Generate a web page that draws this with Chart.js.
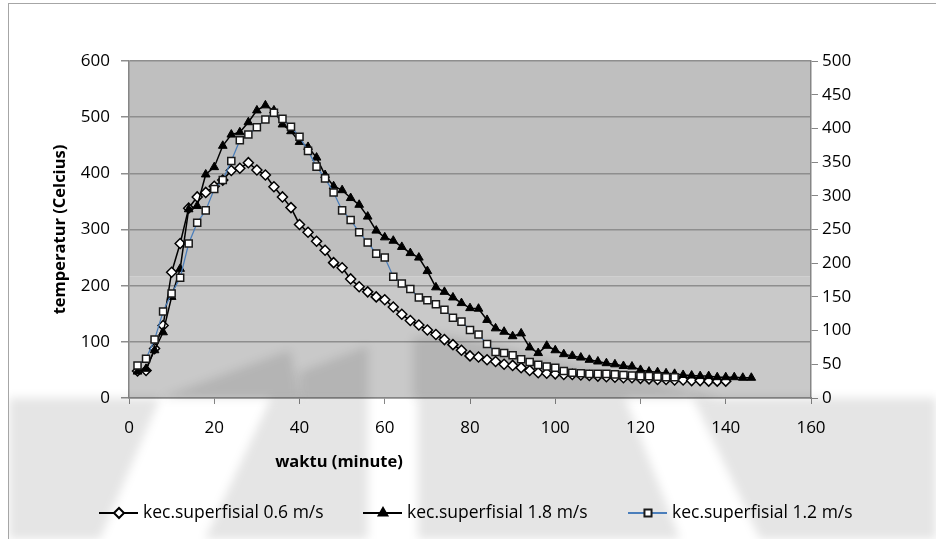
<!DOCTYPE html>
<html>
<head>
<meta charset="utf-8">
<script src="https://cdn.jsdelivr.net/npm/chart.js@4.4.1/dist/chart.umd.min.js"></script>
<style>
  html, body { margin: 0; padding: 0; background: #fff; }
  #wrap { position: relative; width: 936px; height: 539px; }
</style>
</head>
<body>
<div id="wrap"><canvas id="chart"></canvas></div>
<script>
// waktu (minute), one reading every 2 minutes
const waktu = [
  2, 4, 6, 8, 10, 12, 14, 16, 18, 20,
  22, 24, 26, 28, 30, 32, 34, 36, 38, 40,
  42, 44, 46, 48, 50, 52, 54, 56, 58, 60,
  62, 64, 66, 68, 70, 72, 74, 76, 78, 80,
  82, 84, 86, 88, 90, 92, 94, 96, 98, 100,
  102, 104, 106, 108, 110, 112, 114, 116, 118, 120,
  122, 124, 126, 128, 130, 132, 134, 136, 138, 140,
  142, 144, 146,
];

// temperatur (Celcius) per superficial velocity
const kec06 = [
  48, 49, 88, 129, 224, 275, 338, 358, 366, 377,
  388, 405, 409, 419, 406, 397, 376, 358, 339, 309,
  295, 279, 263, 241, 232, 212, 198, 189, 180, 175,
  162, 149, 138, 130, 121, 113, 104, 95, 85, 75,
  73, 68, 65, 60, 58, 54, 49, 45, 44, 43,
  42, 42, 41, 40, 39, 38, 37, 36, 36, 35,
  34, 33, 33, 32, 32, 31, 31, 30, 30, 30,
];
const kec18 = [
  47, 52, 85, 117, 180, 230, 336, 342, 398, 411,
  449, 469, 473, 491, 512, 521, 512, 487, 475, 456,
  447, 428, 397, 377, 370, 356, 344, 323, 298, 286,
  280, 269, 258, 250, 226, 197, 189, 179, 169, 160,
  159, 139, 124, 118, 110, 115, 90, 80, 93, 85,
  78, 75, 72, 68, 65, 62, 60, 57, 56, 50,
  47, 46, 44, 43, 41, 40, 39, 39, 37, 37,
  37, 36, 36,
];
const kec12 = [
  58, 70, 104, 154, 186, 214, 275, 312, 334, 372,
  388, 422, 459, 469, 482, 496, 508, 497, 483, 465,
  440, 412, 391, 366, 334, 317, 295, 277, 257, 250,
  216, 204, 194, 179, 174, 167, 157, 143, 136, 121,
  113, 96, 82, 80, 76, 69, 64, 59, 56, 54,
  48, 45, 44, 43, 43, 43, 42, 41, 40, 39,
  39, 38, 37, 37,
];

const xTicks = [0, 20, 40, 60, 80, 100, 120, 140, 160];
const leftTicks = [0, 100, 200, 300, 400, 500, 600];
const rightTicks = [0, 50, 100, 150, 200, 250, 300, 350, 400, 450, 500];

const labels = ['kec.superfisial 0.6 m/s', 'kec.superfisial 1.8 m/s', 'kec.superfisial 1.2 m/s'];

const FONT = '"Open Sans", "Noto Sans", sans-serif';
const AXIS = '#868686';
const BLUE = '#4a7ebb';

const toPoints = (ys) => ys.map((y, i) => ({ x: waktu[i], y }));
const fixTicks = (list) => (scale) => { scale.ticks = list.map((v) => ({ value: v })); };

// white page, frame and the two-tone plot fill
const backdrop = {
  id: 'backdrop',
  beforeDraw(chart) {
    const { ctx, chartArea: a, width, height } = chart;
    ctx.save();
    ctx.fillStyle = '#fff';
    ctx.fillRect(0, 0, width, height);
    ctx.strokeStyle = '#a6a6a6';
    ctx.lineWidth = 1;
    ctx.strokeRect(8.5, 3.5, width, height);
    const split = a.top + (a.bottom - a.top) * 0.64;
    ctx.fillStyle = '#bfbfbf';
    ctx.fillRect(a.left, a.top, a.right - a.left, split - a.top);
    ctx.fillStyle = '#c9c9c9';
    ctx.fillRect(a.left, split, a.right - a.left, a.bottom - split);
    ctx.restore();
  },
};

// soft, rough stand-in for the faint logo watermark on the lower half of the page
const WM_SHAPES = [
  [[160, 398], [290, 350], [300, 398]],
  [[300, 398], [300, 372], [368, 346], [368, 398]],
  [[413, 398], [413, 338], [440, 334], [500, 346], [580, 366], [650, 382], [720, 398]],
  [[9, 398], [160, 398], [100, 539], [9, 539]],
  [[271, 398], [368, 398], [368, 539], [205, 539]],
  [[418, 398], [625, 398], [680, 539], [418, 539]],
  [[693, 398], [936, 398], [936, 539], [760, 539]],
];
const watermark = {
  id: 'watermark',
  beforeDatasetsDraw(chart) {
    const { ctx, width, height } = chart;
    ctx.save();
    ctx.beginPath();
    ctx.rect(9, 4, width, height);
    ctx.clip();
    ctx.filter = 'blur(5px)';
    ctx.fillStyle = 'rgba(0,0,0,0.10)';
    WM_SHAPES.forEach((pts) => {
      ctx.beginPath();
      pts.forEach(([x, y], i) => (i ? ctx.lineTo(x, y) : ctx.moveTo(x, y)));
      ctx.closePath();
      ctx.fill();
    });
    ctx.restore();
  },
};

// legend row and the x title sit where the original put them, so draw them by hand
const annotations = {
  id: 'annotations',
  afterDraw(chart) {
    const { ctx, chartArea: a } = chart;
    ctx.save();
    ctx.fillStyle = '#000';
    ctx.font = `bold 16.5px ${FONT}`;
    ctx.textAlign = 'center';
    ctx.textBaseline = 'middle';
    ctx.fillText('waktu (minute)', 339, 462);

    ctx.translate(60, (a.top + a.bottom) / 2);
    ctx.rotate(-Math.PI / 2);
    ctx.fillText('temperatur (Celcius)', 0, 0);
    ctx.restore();

    const starts = [99, 363, 628];
    const y = 513;
    chart.data.datasets.forEach((ds, i) => {
      const x0 = starts[i];
      ctx.save();
      ctx.strokeStyle = ds.borderColor;
      ctx.lineWidth = 2;
      ctx.beginPath();
      ctx.moveTo(x0, y);
      ctx.lineTo(x0 + 39, y);
      ctx.stroke();
      ctx.fillStyle = ds.pointBackgroundColor;
      ctx.strokeStyle = ds.pointBorderColor;
      Chart.helpers.drawPoint(ctx, {
        pointStyle: ds.pointStyle, radius: ds.pointRadius, borderWidth: ds.pointBorderWidth, rotation: 0,
      }, x0 + 20, y);
      ctx.fillStyle = '#000';
      ctx.font = `17.5px ${FONT}`;
      ctx.textAlign = 'left';
      ctx.textBaseline = 'middle';
      ctx.fillText(labels[i], x0 + 44, y);
      ctx.restore();
    });
  },
};

new Chart(document.getElementById('chart'), {
  type: 'line',
  data: {
    datasets: [
      {
        label: labels[0], data: toPoints(kec06), order: 3,
        borderColor: '#000', borderWidth: 1.5,
        pointStyle: 'rectRot', pointRadius: 5, pointBorderWidth: 1.5,
        pointBackgroundColor: '#fff', pointBorderColor: '#000',
      },
      {
        label: labels[1], data: toPoints(kec18), order: 2,
        borderColor: '#000', borderWidth: 1.5,
        pointStyle: 'triangle', pointRadius: 5, pointBorderWidth: 1,
        pointBackgroundColor: '#000', pointBorderColor: '#000',
      },
      {
        label: labels[2], data: toPoints(kec12), order: 1,
        borderColor: BLUE, borderWidth: 1.25,
        pointStyle: 'rect', pointRadius: 5, pointBorderWidth: 1.5,
        pointBackgroundColor: '#fff', pointBorderColor: '#1a1a1a',
      },
    ],
  },
  plugins: [backdrop, watermark, annotations],
  options: {
    responsive: true, maintainAspectRatio: false, animation: false,
    layout: { padding: { top: 61, left: 0, right: 0, bottom: 0 } },
    plugins: { legend: { display: false }, tooltip: { enabled: false } },
    elements: { line: { tension: 0, fill: false } },
    scales: {
      x: {
        type: 'linear', min: 0, max: 160,
        afterBuildTicks: fixTicks(xTicks),
        afterFit: (s) => { s.height = 141; },
        grid: { drawOnChartArea: false, color: AXIS, tickLength: 6 },
        border: { color: AXIS, width: 1.5 },
        ticks: { color: '#000', padding: 14, maxRotation: 0, font: { family: FONT, size: 17 } },
      },
      y: {
        position: 'left', min: 0, max: 600,
        afterBuildTicks: fixTicks(leftTicks),
        afterFit: (s) => { s.width = 129; },
        grid: { color: '#8e8e8e', lineWidth: 1.5, tickLength: 8 },
        border: { color: AXIS, width: 1.5 },
        ticks: { color: '#000', padding: 11, font: { family: FONT, size: 17 } },
      },
      y2: {
        position: 'right', min: 0, max: 500,
        afterBuildTicks: fixTicks(rightTicks),
        afterFit: (s) => { s.width = 125; },
        grid: { drawOnChartArea: false, color: AXIS, tickLength: 7 },
        border: { color: AXIS, width: 1.5 },
        ticks: { color: '#000', padding: 4, font: { family: FONT, size: 17 } },
      },
    },
  },
});
</script>
</body>
</html>
